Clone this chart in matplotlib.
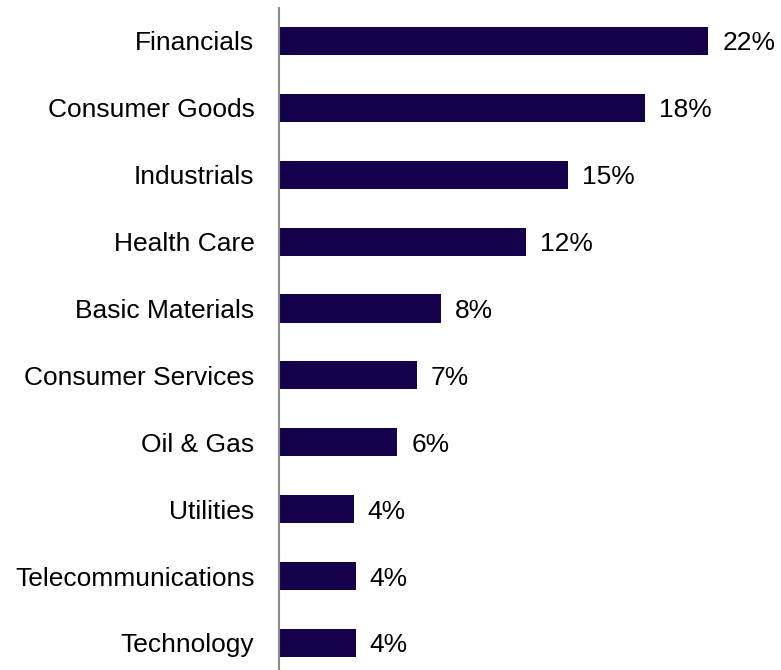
import matplotlib
matplotlib.use("Agg")
import matplotlib.pyplot as plt

categories = ["Financials", "Consumer Goods", "Industrials", "Health Care",
              "Basic Materials", "Consumer Services", "Oil & Gas", "Utilities",
              "Telecommunications", "Technology"]
values = [21.7, 18.5, 14.6, 12.5, 8.2, 7.0, 6.0, 3.8, 3.9, 3.9]
value_labels = ["22%", "18%", "15%", "12%", "8%", "7%", "6%", "4%", "4%", "4%"]

plt.rcParams['font.family'] = ['Liberation Sans', 'DejaVu Sans']

W, H = 781, 670
fig = plt.figure(figsize=(W / 100, H / 100), dpi=100)
left = 278.5 / W
top = 1 - 7.55 / H
ax = fig.add_axes([left, 0.0, 1 - left, top])

bar_color = "#14004B"
ypos = list(range(len(categories)))
ax.barh(ypos, values, height=0.42, color=bar_color, edgecolor="none")

ax.set_ylim(9.404, -0.5)
ax.set_xlim(0, (W - 278.5) / 19.8)

for y, v, lab in zip(ypos, values, value_labels):
    ax.annotate(lab, xy=(v, y), xytext=(14, -2.5), textcoords="offset pixels",
                va="center", ha="left", fontsize=19, color="#000000")

ax.set_yticks(ypos)
ax.set_yticklabels(categories, fontsize=19, color="#000000")
ax.tick_params(axis="y", length=0, pad=17.3)
ax.set_xticks([])

for s in ["top", "right", "bottom"]:
    ax.spines[s].set_visible(False)
ax.spines["left"].set_color("#8c8c8c")
ax.spines["left"].set_linewidth(1.5)

fig.savefig("out.png", dpi=100)
